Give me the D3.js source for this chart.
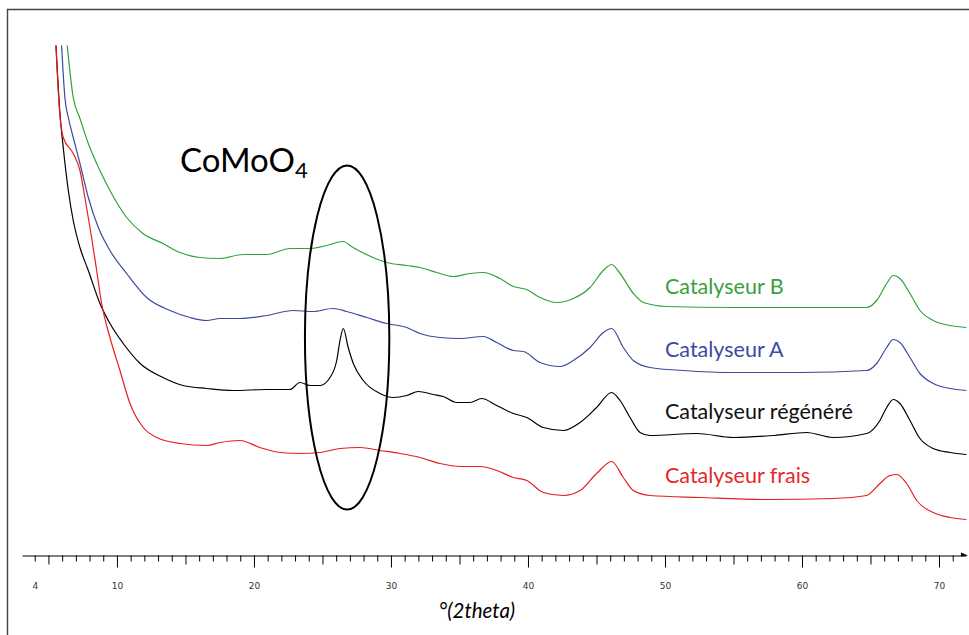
<!DOCTYPE html>
<html>
<head>
<meta charset="utf-8">
<script src="https://cdn.jsdelivr.net/npm/d3@7"></script>
<style>
    body { margin: 0; background: #fff; }
    svg { display: block; }
</style>
</head>
<body>
<div id="chart"></div>
<script>
// diffractogrammes, [2theta, intensite (u.a.)]
var catB = [[6.37,510],[6.81,458],[7.30,437],[7.91,412],[8.76,385],[9.49,365],[10.71,338],[11.90,322],[13.36,312],[14.60,303],[16.06,298],[17.52,297],[19.20,301],[20.93,301],[22.63,307],[24.09,307],[25.31,310],[26.50,314],[27.23,308],[28.69,298],[29.69,293],[31.15,290],[32.12,288],[33.34,283],[34.55,279],[35.77,282],[36.74,283],[37.96,277],[38.93,269],[39.91,266],[40.88,258],[42.09,253],[43.31,257],[44.53,268],[45.50,285],[46.11,291],[46.72,282],[47.69,262],[48.42,253],[50.12,249],[54.99,248],[59.85,248],[64.72,248],[65.45,255],[66.18,272],[66.66,280],[67.15,277],[67.88,262],[68.61,245],[69.58,235],[70.80,230],[72.00,228]];
var catA = [[5.96,510],[6.20,458],[6.45,438],[6.81,418],[7.30,392],[7.91,358],[8.64,328],[9.49,305],[10.71,282],[12.17,258],[13.87,245],[15.33,238],[16.55,235],[17.52,237],[18.98,237],[20.93,240],[22.85,245],[24.31,244],[25.77,247],[26.77,244],[28.23,238],[29.69,232],[31.15,228],[32.12,222],[33.58,218],[35.04,217],[36.74,219],[37.72,213],[38.93,205],[39.66,204],[40.88,193],[42.34,189],[43.31,195],[44.53,208],[45.50,223],[46.11,227],[46.96,208],[47.69,195],[48.91,188],[51.34,185],[54.99,183],[59.85,183],[64.72,185],[65.45,192],[66.18,208],[66.66,216],[67.15,213],[67.88,198],[68.61,182],[69.58,172],[70.80,167],[72.00,165]];
var catRegen = [[5.55,510],[5.84,442],[6.08,408],[6.45,365],[6.81,335],[7.30,308],[7.91,285],[8.76,252],[9.49,232],[10.46,212],[11.69,192],[13.36,178],[14.82,170],[16.55,167],[18.47,165],[20.93,166],[22.63,166],[23.36,173],[24.09,170],[24.82,170],[25.55,178],[26.04,195],[26.28,215],[26.52,227],[26.88,208],[27.25,192],[27.98,175],[29.20,162],[30.17,158],[31.15,160],[32.00,164],[33.09,161],[33.82,159],[34.79,153],[35.77,153],[36.62,157],[37.72,150],[38.93,142],[39.91,138],[41.12,128],[42.58,125],[43.80,133],[45.01,148],[46.11,163],[46.72,155],[47.45,138],[48.18,123],[48.91,120],[52.31,122],[54.99,118],[57.90,120],[60.34,123],[62.28,118],[64.72,122],[65.69,135],[66.18,148],[66.66,156],[67.15,152],[67.88,135],[68.61,117],[69.58,107],[70.80,103],[72.00,101]];
var catFrais = [[5.55,510],[5.79,448],[6.08,418],[6.81,402],[7.30,385],[7.66,358],[8.15,318],[8.52,285],[8.88,252],[9.49,218],[10.22,185],[10.95,152],[11.92,128],[12.90,118],[14.60,112],[16.55,110],[17.52,113],[18.98,115],[20.44,108],[21.90,103],[23.36,102],[24.82,103],[26.28,107],[27.74,108],[29.20,105],[30.66,102],[32.12,98],[33.58,92],[35.04,89],[36.50,89],[37.72,85],[38.93,78],[39.91,75],[41.12,63],[42.58,60],[43.80,65],[45.01,82],[46.11,94],[46.96,78],[47.69,65],[48.91,60],[52.56,58],[57.42,56],[62.28,57],[64.72,60],[65.69,72],[66.42,80],[66.91,81],[67.64,72],[68.37,55],[69.58,43],[70.80,38],[72.00,36]];

var seriesNames = ['Catalyseur B', 'Catalyseur A', 'Catalyseur régénéré', 'Catalyseur frais'];
var seriesData = [catB, catA, catRegen, catFrais];
var seriesColors = ['#33a23a', '#3b4a9e', '#000000', '#e81e1e'];
var labelColors = ['#3a9f3f', '#3d4aa2', '#111111', '#e42a2a'];
var labelLevels = [262, 199, 137, 73];

var minorTicks = d3.range(4, 72);
var tickLabels = [4, 10, 20, 30, 40, 50, 60, 70];

var width = 969, height = 635;
var svg = d3.select('#chart').append('svg').attr('width', width).attr('height', height);

var x = d3.scaleLinear().domain([3.07, 71.97]).range([22, 966]);
var y = d3.scaleLinear().domain([0, 546]).range([555.5, 9.5]);

// cadre
svg.append('path')
    .attr('d', 'M7.5,' + height + 'V9.5H' + width)
    .attr('fill', 'none').attr('stroke', '#444').attr('stroke-width', 1.4);

// axe
var axis = svg.append('g').attr('transform', 'translate(0,' + y(0) + ')')
    .call(d3.axisBottom(x).tickValues(minorTicks).tickSize(6).tickSizeOuter(0).tickFormat(''));
axis.select('.domain').attr('stroke', '#000');
axis.selectAll('.tick line').attr('stroke', '#000').attr('y2', function(d) {
    return d % 10 === 0 ? 12 : (d % 5 === 0 ? 9 : 6);
});
axis.append('path')
    .attr('d', 'M' + (x.range()[1] - 5) + ',-3L' + (x.range()[1] + 2) + ',0L' + (x.range()[1] - 5) + ',1Z')
    .attr('fill', '#000');

var labels = svg.append('g').attr('transform', 'translate(0,' + y(0) + ')')
    .call(d3.axisBottom(x).tickValues(tickLabels).tickSize(0).tickPadding(27).tickFormat(d3.format('d')));
labels.select('.domain').remove();
labels.selectAll('text').attr('font-family', 'DejaVu Sans').attr('font-size', 9).attr('fill', '#333');

svg.append('text')
    .attr('x', 477).attr('y', 618)
    .attr('text-anchor', 'middle')
    .attr('font-family', 'Lato').attr('font-style', 'italic').attr('font-size', 20.5)
    .text('°(2theta)');

// courbes
var line = d3.line()
    .x(function(d) { return x(d[0]); })
    .y(function(d) { return y(d[1]); })
    .curve(d3.curveMonotoneX);

svg.append('g').selectAll('path').data(seriesData).enter().append('path')
    .attr('d', line)
    .attr('fill', 'none')
    .attr('stroke', function(d, i) { return seriesColors[i]; })
    .attr('stroke-width', 1.2);

svg.append('g').selectAll('text').data(seriesNames).enter().append('text')
    .attr('x', x(50))
    .attr('y', function(d, i) { return y(labelLevels[i]); })
    .attr('font-family', 'Lato').attr('font-size', 21.5)
    .attr('fill', function(d, i) { return labelColors[i]; })
    .text(function(d) { return d; });

// CoMoO4 entoure
var ell = { cx: 26.8, cy: 218, rx: 3.08, ry: 172 };
svg.append('ellipse')
    .attr('cx', x(ell.cx)).attr('cy', y(ell.cy))
    .attr('rx', x(ell.cx + ell.rx) - x(ell.cx))
    .attr('ry', y(ell.cy - ell.ry) - y(ell.cy))
    .attr('fill', 'none').attr('stroke', '#000').attr('stroke-width', 2);

var title = svg.append('text')
    .attr('x', 180).attr('y', 172)
    .attr('font-family', 'Lato').attr('font-size', 33).attr('fill', '#000');
title.append('tspan').text('CoMoO');
title.append('tspan').attr('font-size', 22).attr('dy', 6).text('4');
</script>
</body>
</html>
